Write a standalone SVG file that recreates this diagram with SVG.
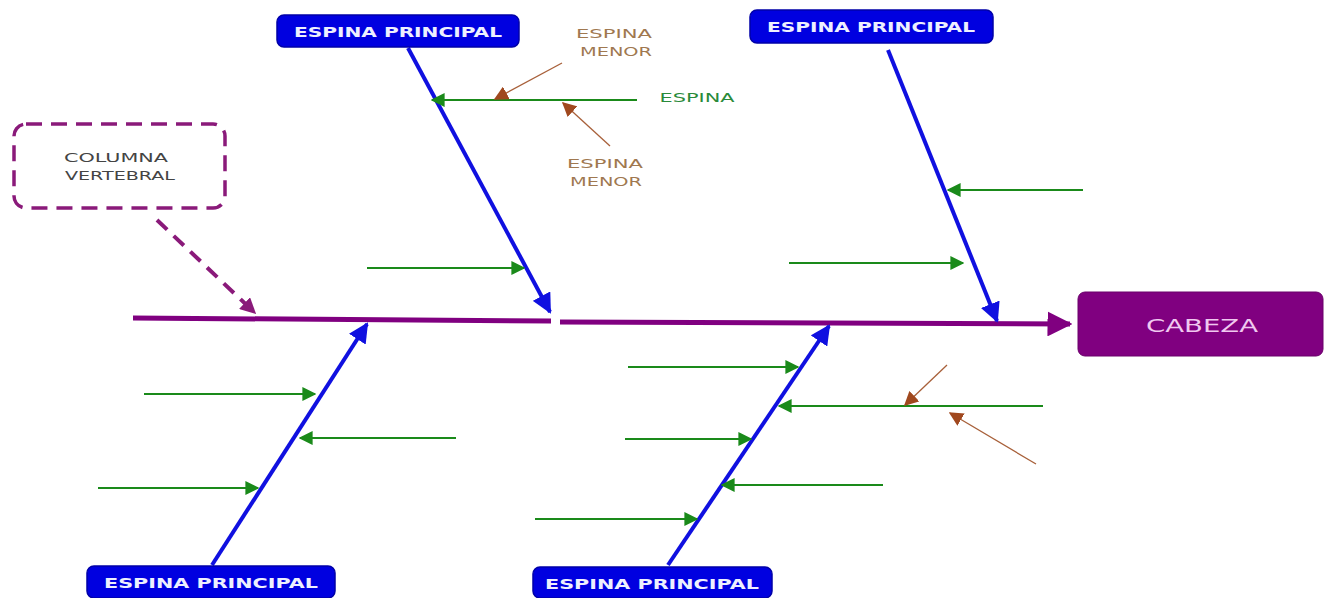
<svg xmlns="http://www.w3.org/2000/svg" width="1333" height="598" viewBox="0 0 1333 598">
<defs>
<marker id="ab" viewBox="0 0 10 10" refX="9" refY="5" markerWidth="5" markerHeight="5" orient="auto" markerUnits="strokeWidth"><path d="M0,0 L10,5 L0,10 z" fill="#1010e0"/></marker>
<marker id="ag" viewBox="0 0 10 10" refX="9" refY="5" markerWidth="7" markerHeight="7" orient="auto" markerUnits="strokeWidth"><path d="M0,0 L10,5 L0,10 z" fill="#1a8a1a"/></marker>
<marker id="ar" viewBox="0 0 10 10" refX="9" refY="5" markerWidth="11" markerHeight="11" orient="auto" markerUnits="strokeWidth"><path d="M0,0 L10,5 L0,10 z" fill="#a0481e"/></marker>
<marker id="ap" viewBox="0 0 10 10" refX="9" refY="5" markerWidth="5" markerHeight="5" orient="auto" markerUnits="strokeWidth"><path d="M0,0 L10,5 L0,10 z" fill="#800080"/></marker>
<marker id="apd" viewBox="0 0 10 10" refX="9" refY="5" markerWidth="4" markerHeight="4" orient="auto" markerUnits="strokeWidth"><path d="M0,0 L10,5 L0,10 z" fill="#8a1a7a"/></marker>
</defs>
<style>
.bp{fill:#0000e0;stroke:#0000a8;stroke-width:1.5}
.bt{fill:#eef0ff;font-family:"DejaVu Sans",sans-serif;font-weight:bold;font-size:14px;text-anchor:middle}
.bone{stroke:#1010e0;stroke-width:4;fill:none;marker-end:url(#ab)}
.g{stroke:#1a8a1a;stroke-width:2;fill:none;marker-end:url(#ag)}
.r{stroke:#a8603a;stroke-width:1.3;fill:none;marker-end:url(#ar)}
.sp{stroke:#800080;stroke-width:5;fill:none}
.lbl{font-family:"DejaVu Sans",sans-serif;font-size:13px;text-anchor:middle}
</style>
<rect width="1333" height="598" fill="#ffffff"/>
<g id="connectors">
<line class="sp" x1="133" y1="318" x2="551" y2="321"/>
<line class="sp" x1="560" y1="322" x2="1070" y2="324" marker-end="url(#ap)"/>
<line class="bone" x1="408" y1="48" x2="550" y2="312"/>
<line class="bone" x1="888" y1="50" x2="997" y2="321"/>
<line class="bone" x1="212" y1="565" x2="367" y2="324"/>
<line class="bone" x1="668" y1="565" x2="829" y2="326"/>
<line class="g" x1="637" y1="100" x2="432" y2="100"/>
<line class="g" x1="367" y1="268" x2="524" y2="268"/>
<line class="g" x1="1083" y1="190" x2="948" y2="190"/>
<line class="g" x1="789" y1="263" x2="963" y2="263"/>
<line class="g" x1="144" y1="394" x2="315" y2="394"/>
<line class="g" x1="456" y1="438" x2="300" y2="438"/>
<line class="g" x1="98" y1="488" x2="258" y2="488"/>
<line class="g" x1="628" y1="367" x2="798" y2="367"/>
<line class="g" x1="1043" y1="406" x2="779" y2="406"/>
<line class="g" x1="625" y1="439" x2="751" y2="439"/>
<line class="g" x1="883" y1="485" x2="722" y2="485"/>
<line class="g" x1="535" y1="519" x2="697" y2="519"/>
<line class="r" x1="562" y1="63" x2="495" y2="99"/>
<line class="r" x1="610" y1="146" x2="563" y2="103"/>
<line class="r" x1="947" y1="365" x2="905" y2="405"/>
<line class="r" x1="1036" y1="464" x2="950" y2="413"/>
<line x1="157" y1="220" x2="255" y2="313" stroke="#8a1a7a" stroke-width="4" stroke-dasharray="14,9" marker-end="url(#apd)"/>
</g>
<g id="columna">
<rect x="14" y="124" width="211" height="84" rx="12" fill="#ffffff" stroke="#8a1a7a" stroke-width="3.5" stroke-dasharray="16,9"/>
<text x="64" y="162" font-family="DejaVu Sans,sans-serif" font-size="12.5" fill="#444" textLength="104" lengthAdjust="spacingAndGlyphs">COLUMNA</text>
<text x="65" y="180" font-family="DejaVu Sans,sans-serif" font-size="12.5" fill="#444" textLength="110" lengthAdjust="spacingAndGlyphs">VERTEBRAL</text>
</g>
<g id="cabeza">
<rect x="1078" y="292" width="245" height="64" rx="7" fill="#800080" stroke="#6a006a" stroke-width="1"/>
<text x="1202" y="332" font-family="DejaVu Sans,sans-serif" font-size="18" fill="#f0c8f0" text-anchor="middle" textLength="112" lengthAdjust="spacingAndGlyphs">CABEZA</text>
</g>
<g id="ep-top-left">
<rect class="bp" x="277" y="15" width="242" height="32" rx="7"/>
<text class="bt" x="398" y="37" textLength="208" lengthAdjust="spacingAndGlyphs">ESPINA PRINCIPAL</text>
</g>
<g id="ep-top-right">
<rect class="bp" x="750" y="10" width="243" height="33" rx="7"/>
<text class="bt" x="871" y="32" textLength="208" lengthAdjust="spacingAndGlyphs">ESPINA PRINCIPAL</text>
</g>
<g id="ep-bottom-left">
<rect class="bp" x="87" y="566" width="248" height="32" rx="7"/>
<text class="bt" x="211" y="588" textLength="214" lengthAdjust="spacingAndGlyphs">ESPINA PRINCIPAL</text>
</g>
<g id="ep-bottom-right">
<rect class="bp" x="533" y="567" width="239" height="31" rx="7"/>
<text class="bt" x="652" y="589" textLength="214" lengthAdjust="spacingAndGlyphs">ESPINA PRINCIPAL</text>
</g>
<g id="labels">
<text class="lbl" x="614" y="38" fill="#a07850" textLength="76" lengthAdjust="spacingAndGlyphs">ESPINA</text>
<text class="lbl" x="616" y="56" fill="#a07850" textLength="72" lengthAdjust="spacingAndGlyphs">MENOR</text>
<text class="lbl" x="605" y="168" fill="#a07850" textLength="76" lengthAdjust="spacingAndGlyphs">ESPINA</text>
<text class="lbl" x="606" y="186" fill="#a07850" textLength="72" lengthAdjust="spacingAndGlyphs">MENOR</text>
<text class="lbl" x="697" y="102" fill="#2a8a3a" textLength="75" lengthAdjust="spacingAndGlyphs">ESPINA</text>
</g>
</svg>
